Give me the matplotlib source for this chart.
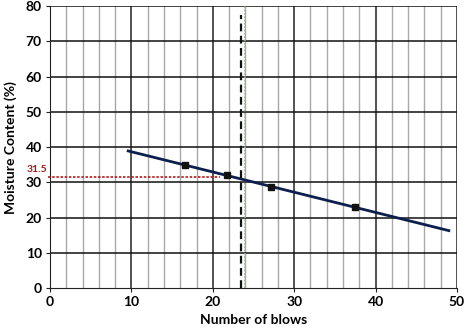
import matplotlib
matplotlib.use("Agg")
import matplotlib.pyplot as plt
import numpy as np

# measured points (blows, moisture %)
blows = [16.6, 21.7, 27.1, 37.5]
moisture = [34.9, 32.1, 28.7, 22.9]

# trend line end points
trend_x = [9.6, 49.0]
trend_y = [38.9, 16.3]

ll_value = 31.5
ll_blows_end = 20.9
dash_x = 23.5
dash_top = 77.4
green_x = 24.0

plt.rcParams["font.family"] = ["Lato", "DejaVu Sans"]

fig = plt.figure(figsize=(4.77, 3.35), dpi=100)
ax = fig.add_axes([0.105, 0.14, 0.853, 0.842])

ax.set_xlim(0, 50)
ax.set_ylim(0, 80)

# grid
for x in np.arange(2, 50, 2):
    if x % 10 == 0:
        ax.axvline(x, color="#222222", lw=1.1, zorder=1)
    else:
        ax.axvline(x, color="#a8a8a8", lw=1.0, zorder=1)
ax.axvline(50, color="#222222", lw=1.1, zorder=1)
for y in np.arange(10, 81, 10):
    ax.axhline(y, color="#111111", lw=1.1, zorder=1)

ax.axvline(green_x, color="#9bb58a", lw=1.2, ls=(0, (1, 1)), zorder=2)

ax.plot(trend_x, trend_y, color="#0c1f4d", lw=2.0, zorder=4)
ax.plot(blows, moisture, ls="none", marker="s", ms=4.5, color="#111111", zorder=5)

ax.plot([-0.3, ll_blows_end], [ll_value, ll_value], color="#b01c1c", lw=1.2,
        ls=(0, (1.5, 1)), zorder=3, clip_on=False)
ax.text(-0.4, ll_value + 0.8, "31.5", color="#a01818", fontsize=7.5, ha="right",
        va="bottom", fontweight="bold")

ax.plot([dash_x, dash_x], [0, dash_top], color="#111111", lw=1.6,
        ls=(0, (3.5, 2)), zorder=4)

for s in ["top", "right"]:
    ax.spines[s].set_visible(False)
ax.spines["left"].set_color("#222222")
ax.spines["bottom"].set_color("#222222")

ax.set_xticks(np.arange(0, 51, 10))
ax.set_yticks(np.arange(0, 81, 10))
ax.tick_params(axis="both", labelsize=10, length=3, color="#222222", pad=3)
for lab in ax.get_xticklabels() + ax.get_yticklabels():
    lab.set_fontweight("bold")

ax.set_xlabel("Number of blows", fontsize=10, fontweight="bold", labelpad=4)
ax.set_ylabel("Moisture Content (%)", fontsize=10, fontweight="bold", labelpad=6)

fig.savefig("out.png", dpi=100)
